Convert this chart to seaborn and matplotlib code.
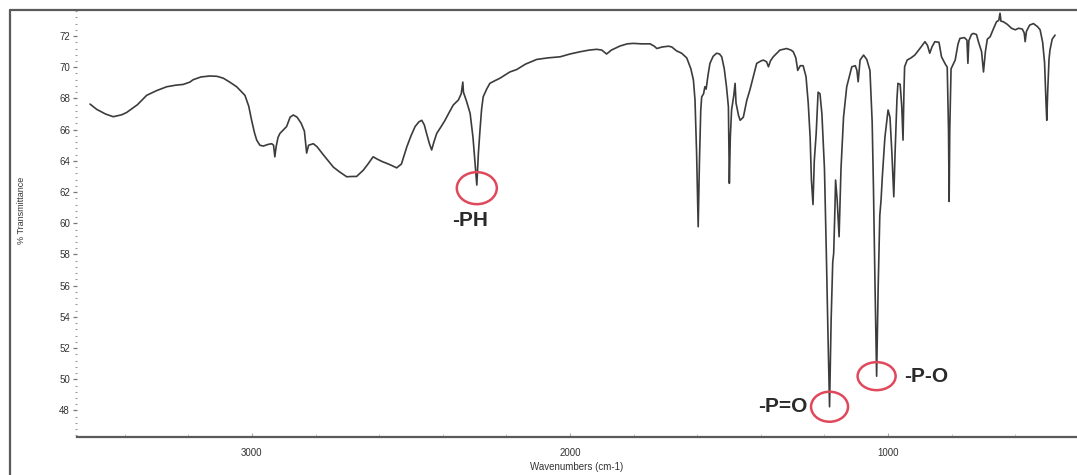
import numpy as np
import pandas as pd
import matplotlib
matplotlib.use("Agg")
import matplotlib.pyplot as plt
from matplotlib.lines import Line2D
from matplotlib.patches import Ellipse
from matplotlib.ticker import MultipleLocator
import seaborn as sns

# IR spectrum: wavenumber (cm-1) and % transmittance
wavenumber = [
    3509, 3488, 3460, 3436, 3410, 3394, 3360, 3331, 3300, 3268, 3240, 3216, 3195, 3185,
    3160, 3132, 3110, 3090, 3070, 3048, 3022, 3010, 3001, 2992, 2985, 2975, 2964, 2950,
    2938, 2932, 2928, 2924, 2918, 2912, 2891, 2880, 2870, 2858, 2845, 2835, 2828, 2822,
    2807, 2795, 2776, 2760, 2744, 2725, 2702, 2685, 2671, 2650, 2635, 2619, 2605, 2590,
    2576, 2560, 2545, 2530, 2513, 2500, 2487, 2475, 2466, 2458, 2451, 2442, 2435, 2428,
    2419, 2405, 2393, 2380, 2367, 2351, 2342, 2337, 2335, 2325, 2314, 2305, 2293, 2288,
    2283, 2278, 2273, 2262, 2252, 2235, 2220, 2189, 2168, 2140, 2105, 2070, 2031, 2000,
    1969, 1940, 1916, 1900, 1885, 1870, 1843, 1820, 1801, 1775, 1748, 1735, 1727, 1710,
    1690, 1680, 1665, 1649, 1633, 1620, 1612, 1607, 1602, 1597, 1593, 1589, 1586, 1580,
    1576, 1572, 1566, 1560, 1550, 1539, 1530, 1523, 1515, 1508, 1502, 1499, 1496, 1492,
    1485, 1481, 1478, 1470, 1465, 1455, 1444, 1435, 1429, 1420, 1413, 1400, 1392, 1382,
    1376, 1370, 1361, 1350, 1340, 1319, 1305, 1298, 1290, 1284, 1276, 1267, 1258, 1251,
    1245, 1241, 1236, 1232, 1226, 1220, 1214, 1208, 1200, 1194, 1189, 1184, 1179, 1174,
    1171, 1167, 1165, 1160, 1154, 1148, 1140, 1130, 1114, 1103, 1098, 1094, 1090, 1088,
    1077, 1067, 1057, 1050, 1046, 1041, 1036, 1031, 1026, 1022, 1018, 1010, 1000, 994,
    988, 982, 978, 972, 969, 962, 957, 953, 950, 948, 940, 928, 916, 900,
    884, 876, 869, 862, 853, 840, 832, 820, 814, 810, 808, 806, 802, 795,
    789, 780, 774, 760, 752, 749, 746, 738, 732, 722, 716, 706, 700, 694,
    688, 679, 668, 659, 652, 648, 645, 638, 625, 612, 600, 590, 578, 572,
    569, 565, 555, 543, 530, 522, 514, 508, 503, 501, 498, 494, 491, 484,
    475,
]
transmittance = [
    67.64, 67.3, 67.0, 66.83, 66.95, 67.1, 67.6, 68.2, 68.5, 68.75, 68.85, 68.9, 69.05, 69.2,
    69.38, 69.44, 69.42, 69.3, 69.05, 68.75, 68.2, 67.5, 66.6, 65.8, 65.33, 65.0, 64.95, 65.05,
    65.1, 65.0, 64.26, 64.9, 65.5, 65.76, 66.2, 66.8, 66.94, 66.8, 66.4, 65.9, 64.5, 65.0,
    65.1, 64.9, 64.4, 64.0, 63.6, 63.3, 62.98, 63.0, 63.0, 63.4, 63.8, 64.26, 64.1, 63.95,
    63.84, 63.7, 63.55, 63.8, 64.9, 65.6, 66.2, 66.5, 66.6, 66.3, 65.76, 65.1, 64.7, 65.2,
    65.76, 66.2, 66.6, 67.1, 67.58, 67.9, 68.3, 69.05, 68.4, 67.8, 67.04, 65.5, 62.45, 64.5,
    65.97, 67.3, 68.1, 68.6, 68.97, 69.15, 69.3, 69.7, 69.85, 70.2, 70.5, 70.6, 70.67, 70.85,
    70.99, 71.1, 71.15, 71.1, 70.85, 71.1, 71.36, 71.5, 71.53, 71.5, 71.5, 71.35, 71.2, 71.3,
    71.35, 71.3, 71.05, 70.9, 70.6, 69.9, 69.18, 67.9, 64.5, 59.78, 64.0, 67.2, 68.1, 68.3,
    68.75, 68.6, 69.5, 70.25, 70.7, 70.9, 70.85, 70.67, 69.9, 68.75, 67.47, 62.56, 65.5, 67.26,
    68.2, 68.97, 67.7, 66.9, 66.6, 66.8, 67.9, 68.5, 68.97, 69.7, 70.25, 70.4, 70.46, 70.35,
    70.03, 70.4, 70.67, 70.9, 71.1, 71.2, 71.1, 70.99, 70.6, 69.8, 70.1, 70.1, 69.4, 67.7,
    65.5, 62.77, 61.2, 64.0, 65.76, 68.4, 68.3, 67.0, 63.5, 58.0, 52.94, 48.24, 53.8, 57.5,
    58.07, 61.0, 62.77, 61.5, 59.14, 63.5, 66.8, 68.75, 70.03, 70.1, 69.8, 69.07, 70.0, 70.46,
    70.78, 70.5, 69.8, 66.5, 62.35, 56.0, 50.2, 56.0, 60.5, 61.5, 63.0, 65.5, 67.26, 66.8,
    64.5, 61.7, 64.5, 68.0, 68.97, 68.9, 67.5, 65.33, 68.5, 70.03, 70.46, 70.6, 70.78, 71.2,
    71.64, 71.4, 70.9, 71.3, 71.64, 71.6, 70.67, 70.2, 70.0, 66.0, 61.4, 66.0, 69.9, 70.2,
    70.46, 71.5, 71.85, 71.9, 71.74, 70.25, 71.7, 72.1, 72.17, 72.1, 71.64, 71.0, 69.7, 71.0,
    71.8, 71.96, 72.5, 72.92, 73.0, 73.46, 72.95, 72.92, 72.75, 72.5, 72.4, 72.5, 72.45, 72.2,
    71.64, 72.3, 72.7, 72.8, 72.6, 72.4, 71.6, 70.3, 67.5, 66.6, 68.5, 70.5, 71.1, 71.8,
    72.06,
]

# Assigned bands: label, band position (cm-1), band minimum (%T)
band_labels = ["-PH", "-P=O", "-P-O"]
band_positions = [2293, 1184, 1036]
band_minima = [62.45, 48.24, 50.2]

x_ticks = [3000, 2000, 1000]
y_ticks = list(range(48, 73, 2))

sns.set_theme(style="white")
plt.rcParams["font.family"] = ["Liberation Sans", "DejaVu Sans"]

W, H = 1077, 475
fig = plt.figure(figsize=(W / 100, H / 100), dpi=100)
fig.patch.set_facecolor("white")

# outer frame (top and left edges)
frame_col = "#5a5a5a"
fig.add_artist(Line2D([10 / W, 1.0], [1 - 10 / H, 1 - 10 / H], color=frame_col, lw=1.6))
fig.add_artist(Line2D([10 / W, 10 / W], [0, 1 - 10 / H], color=frame_col, lw=1.6))

ax = fig.add_axes([77 / W, 38 / H, (W - 77) / W, (H - 38 - 10) / H])
ax.set_facecolor("white")

df = pd.DataFrame({"Wavenumber": wavenumber, "Transmittance": transmittance})
sns.lineplot(data=df, x="Wavenumber", y="Transmittance", sort=False, estimator=None,
             color="#3c3c3c", lw=1.2, ax=ax)

ax.set_xlim(3550, 406)
ax.set_ylim(46.3, 73.67)

for side in ["top", "right", "left"]:
    ax.spines[side].set_visible(False)
ax.spines["bottom"].set_color("#5a5a5a")
ax.spines["bottom"].set_linewidth(1.6)

ax.set_xticks(x_ticks)
ax.set_xticklabels([str(t) for t in x_ticks])
ax.xaxis.set_minor_locator(MultipleLocator(200))
ax.set_yticks(y_ticks)
ax.set_yticklabels([str(t) for t in y_ticks])
ax.yaxis.set_minor_locator(MultipleLocator(0.4))

ax.tick_params(axis="x", which="major", bottom=True, direction="in", length=3,
               width=0.8, color="#aaaaaa", labelsize=7, labelcolor="#333333", pad=8)
ax.tick_params(axis="x", which="minor", bottom=True, direction="in", length=2,
               width=0.6, color="#bbbbbb")
ax.tick_params(axis="y", which="major", left=True, direction="out", length=3,
               width=0.9, color="#777777", labelsize=7, labelcolor="#333333", pad=2)
ax.tick_params(axis="y", which="minor", left=True, direction="out", length=1.5,
               width=0.8, color="#999999")

ax.set_xlabel("Wavenumbers (cm-1)", fontsize=7, color="#333333", labelpad=3)
ax.set_ylabel("")
fig.text(22 / W, 1 - 210 / H, "% Transmittance", rotation=90, fontsize=6.5,
         color="#333333", ha="center", va="center")

# red markers around assigned bands and their labels
px_per_wn = 318 / 1000.0
px_per_t = 15.6
ell_w_px = [40, 37, 38]
ell_h_px = [32, 30, 28]
ell_dy = [-0.2, 0.0, 0.0]
# label placement: wavenumber shift from the band, %T shift, alignment
label_pos = [(20, -2.1, "center"), (70, 0.0, "right"), (-85, 0.0, "left")]
for lab, pos, tmin, w, h, dy, (dx, ty, ha) in zip(
        band_labels, band_positions, band_minima, ell_w_px, ell_h_px, ell_dy, label_pos):
    ax.add_patch(Ellipse((pos, tmin + dy), w / px_per_wn, h / px_per_t,
                         fill=False, ec="#e0485c", lw=1.8, zorder=3))
    ax.text(pos + dx, tmin + dy + ty, lab, fontsize=15, fontweight="bold",
            color="#2a2a2a", ha=ha, va="center")

fig.savefig("out.png", dpi=100, facecolor="white")
